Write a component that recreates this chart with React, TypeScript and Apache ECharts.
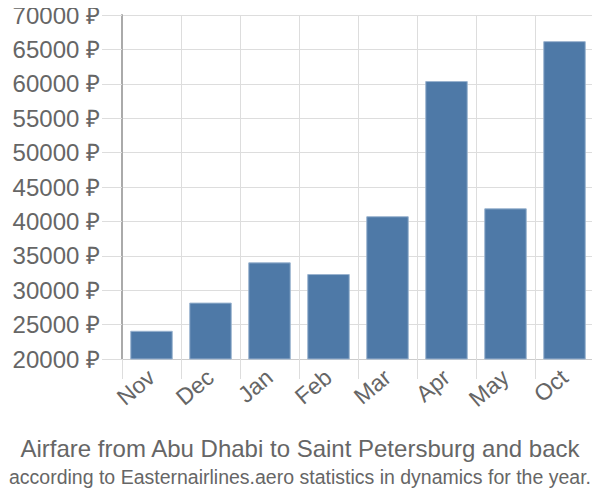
import React, { useEffect, useRef } from "react";
import * as echarts from "echarts";

const categories = ["Nov", "Dec", "Jan", "Feb", "Mar", "Apr", "May", "Oct"];
const prices = [24100, 28200, 34050, 32350, 40750, 60400, 41900, 66200];
const titleText = "Airfare from Abu Dhabi to Saint Petersburg and back";
const subtitleText = "according to Easternairlines.aero statistics in dynamics for the year.";

export default function App() {
  const ref = useRef<HTMLDivElement>(null);
  useEffect(() => {
    if (!ref.current) return;
    const chart = echarts.init(ref.current, null, { renderer: "svg" });
    chart.setOption({
      animation: false,
      textStyle: { fontFamily: "Liberation Sans, Arial, sans-serif" },
      title: [
        {
          text: titleText,
          left: "center",
          top: 431,
          textStyle: { fontSize: 24, fontWeight: "normal", color: "#666" },
        },
        {
          text: subtitleText,
          left: "center",
          top: 462,
          textStyle: { fontSize: 19.5, fontWeight: "normal", color: "#666" },
        },
      ],
      grid: { left: 122, right: 6, top: 15, bottom: 141, containLabel: false },
      xAxis: {
        type: "category",
        data: categories,
        axisLine: { show: true, lineStyle: { color: "#ccc", width: 1 } },
        axisTick: { show: true, length: 20, alignWithLabel: false, lineStyle: { color: "#ddd" } },
        splitLine: { show: true, lineStyle: { color: "#ddd" } },
        axisLabel: { rotate: 40, fontSize: 23, color: "#666", margin: 15 },
      },
      yAxis: {
        type: "value",
        min: 20000,
        max: 70000,
        interval: 5000,
        axisLine: { show: true, lineStyle: { color: "#aaa", width: 2 } },
        axisTick: { show: true, length: 20, lineStyle: { color: "#ddd" } },
        splitLine: { show: true, lineStyle: { color: "#ddd" } },
        axisLabel: {
          formatter: (v: number) => String(v) + " ₽",
          fontSize: 24,
          color: "#666",
          margin: 22,
        },
      },
      series: [
        {
          type: "bar",
          data: prices,
          barCategoryGap: "28%",
          itemStyle: { color: "#4e79a7", borderColor: "#9ab3cf", borderWidth: 1 },
        },
      ],
    });
    return () => chart.dispose();
  }, []);
  return <div ref={ref} style={{ width: 600, height: 500, margin: -8 }} />;
}
